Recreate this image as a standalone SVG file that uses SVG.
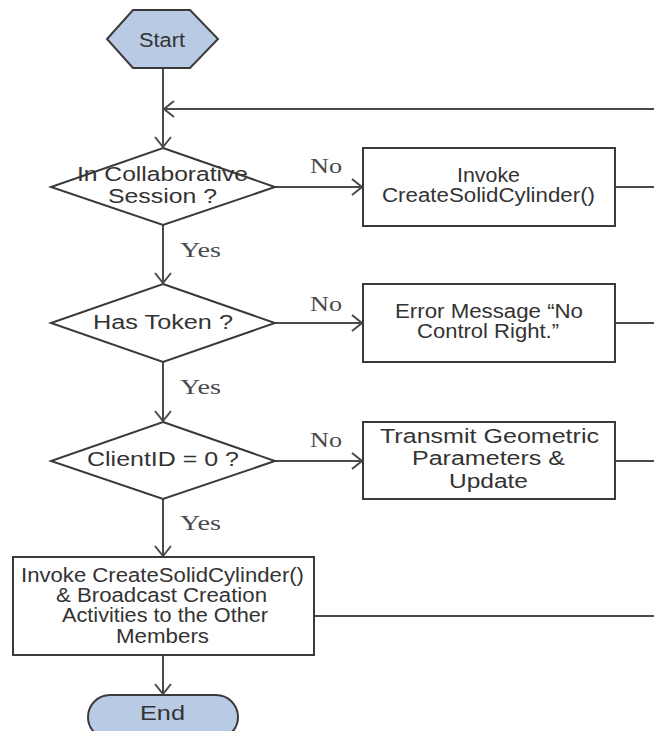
<svg xmlns="http://www.w3.org/2000/svg" width="654" height="731" viewBox="0 0 654 731">
  <style>
    .shape { fill: #ffffff; stroke: #3a3a3a; stroke-width: 2; }
    .term { fill: #b9cbe4; stroke: #3a3a3a; stroke-width: 2; }
    .txt { font-family: "Liberation Sans", Arial, sans-serif; font-size: 20px; fill: #333333; text-anchor: middle; }
    .lbl { font-family: "Liberation Serif", "Times New Roman", serif; font-size: 21px; fill: #4a4a4a; }
    .conn { fill: none; stroke: #4a4a4a; stroke-width: 2; }
  </style>
  <defs>
    <marker id="arrow" markerUnits="userSpaceOnUse" markerWidth="12" markerHeight="18" viewBox="0 0 12 18" refX="11" refY="9" orient="auto">
      <path d="M1,1 L11,9 L1,17" fill="none" stroke="#4a4a4a" stroke-width="2"/>
    </marker>
  </defs>

  <rect width="654" height="731" fill="#ffffff"/>

  <!-- connectors -->
  <g id="connectors">
    <line class="conn" x1="163" y1="68" x2="163" y2="147" marker-end="url(#arrow)"/>
    <line class="conn" x1="654" y1="109" x2="164" y2="109" marker-end="url(#arrow)"/>
    <line class="conn" x1="163" y1="225" x2="163" y2="283" marker-end="url(#arrow)"/>
    <line class="conn" x1="163" y1="362" x2="163" y2="421" marker-end="url(#arrow)"/>
    <line class="conn" x1="163" y1="499" x2="163" y2="556" marker-end="url(#arrow)"/>
    <line class="conn" x1="163" y1="655" x2="163" y2="694" marker-end="url(#arrow)"/>
    <line class="conn" x1="275" y1="187" x2="362" y2="187" marker-end="url(#arrow)"/>
    <line class="conn" x1="275" y1="323" x2="362" y2="323" marker-end="url(#arrow)"/>
    <line class="conn" x1="275" y1="461" x2="362" y2="461" marker-end="url(#arrow)"/>
    <line class="conn" x1="615" y1="187" x2="654" y2="187"/>
    <line class="conn" x1="615" y1="323" x2="654" y2="323"/>
    <line class="conn" x1="615" y1="461" x2="654" y2="461"/>
    <line class="conn" x1="314" y1="616" x2="654" y2="616"/>
    <text class="lbl" x="310" y="173" textLength="32" lengthAdjust="spacingAndGlyphs">No</text>
    <text class="lbl" x="310" y="311" textLength="32" lengthAdjust="spacingAndGlyphs">No</text>
    <text class="lbl" x="310" y="447" textLength="32" lengthAdjust="spacingAndGlyphs">No</text>
    <text class="lbl" x="180" y="257" textLength="41" lengthAdjust="spacingAndGlyphs">Yes</text>
    <text class="lbl" x="180" y="394" textLength="41" lengthAdjust="spacingAndGlyphs">Yes</text>
    <text class="lbl" x="180" y="530" textLength="41" lengthAdjust="spacingAndGlyphs">Yes</text>
  </g>

  <g id="start">
    <polygon class="term" points="107,39 133,10 190,10 218,39 190,68 133,68"/>
    <text class="txt" x="162" y="47" textLength="46" lengthAdjust="spacingAndGlyphs">Start</text>
  </g>

  <g id="in-session">
    <polygon class="shape" points="163,148 275,187 163,225 51,187"/>
    <text class="txt" x="162.5" y="181" textLength="171" lengthAdjust="spacingAndGlyphs">In Collaborative</text>
    <text class="txt" x="162.5" y="203" textLength="109" lengthAdjust="spacingAndGlyphs">Session ?</text>
  </g>

  <g id="invoke-local">
    <rect class="shape" x="363" y="148" width="252" height="78"/>
    <text class="txt" x="488.5" y="182" textLength="63" lengthAdjust="spacingAndGlyphs">Invoke</text>
    <text class="txt" x="488.5" y="202" textLength="213" lengthAdjust="spacingAndGlyphs">CreateSolidCylinder()</text>
  </g>

  <g id="has-token">
    <polygon class="shape" points="163,284 275,323 163,362 51,323"/>
    <text class="txt" x="163" y="329" textLength="140" lengthAdjust="spacingAndGlyphs">Has Token ?</text>
  </g>

  <g id="error-message">
    <rect class="shape" x="363" y="284" width="252" height="78"/>
    <text class="txt" x="489" y="318" textLength="188" lengthAdjust="spacingAndGlyphs">Error Message “No</text>
    <text class="txt" x="488" y="338" textLength="142" lengthAdjust="spacingAndGlyphs">Control Right.”</text>
  </g>

  <g id="client-id">
    <polygon class="shape" points="163,422 275,461 163,499 51,461"/>
    <text class="txt" x="163" y="466" textLength="152" lengthAdjust="spacingAndGlyphs">ClientID = 0 ?</text>
  </g>

  <g id="transmit">
    <rect class="shape" x="363" y="422" width="252" height="77"/>
    <text class="txt" x="489.5" y="443" textLength="219" lengthAdjust="spacingAndGlyphs">Transmit Geometric</text>
    <text class="txt" x="488.5" y="465" textLength="153" lengthAdjust="spacingAndGlyphs">Parameters &amp;</text>
    <text class="txt" x="488.5" y="488" textLength="79" lengthAdjust="spacingAndGlyphs">Update</text>
  </g>

  <g id="broadcast">
    <rect class="shape" x="13" y="557" width="301" height="98"/>
    <text class="txt" x="162.5" y="582" textLength="283" lengthAdjust="spacingAndGlyphs">Invoke CreateSolidCylinder()</text>
    <text class="txt" x="161.5" y="602" textLength="211" lengthAdjust="spacingAndGlyphs">&amp; Broadcast Creation</text>
    <text class="txt" x="165" y="622" textLength="206" lengthAdjust="spacingAndGlyphs">Activities to the Other</text>
    <text class="txt" x="162.5" y="643" textLength="93" lengthAdjust="spacingAndGlyphs">Members</text>
  </g>

  <g id="end">
    <rect class="term" x="88" y="695" width="150" height="44" rx="22" ry="22"/>
    <text class="txt" x="162.5" y="720" textLength="45" lengthAdjust="spacingAndGlyphs">End</text>
  </g>
</svg>
